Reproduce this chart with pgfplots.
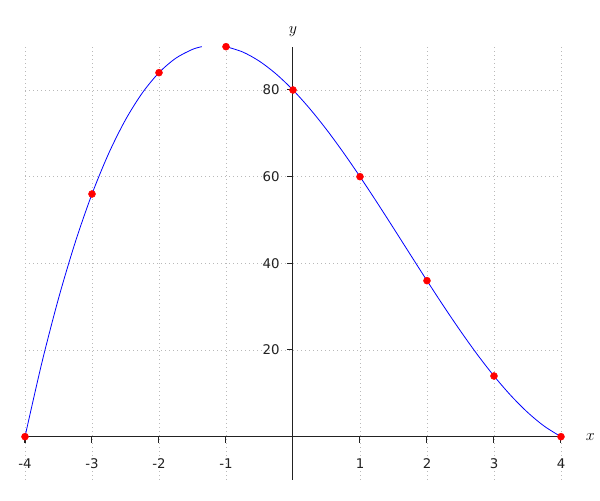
\documentclass[border=0pt]{standalone}
\usepackage{pgfplots}
\pgfplotsset{compat=1.18}
\usepackage{fontspec}
\setmainfont{DejaVu Sans}
\definecolor{axgray}{HTML}{222222}
\begin{document}
\begin{tikzpicture}
\useasboundingbox (0,0) rectangle (450pt,375pt);
\begin{axis}[
  at={(18.75pt,15pt)}, anchor=south west,
  scale only axis, width=402pt, height=325pt,
  xmin=-4, xmax=4, ymin=-10, ymax=90,
  axis lines=middle,
  axis line style={-, color=axgray, line width=0.75pt},
  xtick={-4,-3,-2,-1,1,2,3,4},
  xticklabels={-4,-3,-2,-1,1,2,3,4},
  ytick={20,40,60,80},
  yticklabels={20,40,60,80},
  tick align=outside,
  major tick length=4.5pt,
  tick style={color=axgray, line width=0.75pt},
  grid=major,
  grid style={color=gray!55, line width=0.5pt, dash pattern=on 0.75pt off 2.25pt},
  ticklabel style={font=\fontsize{10}{11}\selectfont, text=axgray},
  xticklabel style={anchor=center, yshift=-16pt},
  yticklabel style={anchor=east, xshift=-2pt},
  xlabel={$x$}, ylabel={$y$},
  every axis x label/.style={at={(axis cs:4,0)}, anchor=center, xshift=22pt, font=\large},
  every axis y label/.style={at={(axis cs:0,90)}, anchor=center, yshift=11pt, font=\large},
  unbounded coords=jump,
]
\addplot[blue, line width=0.6pt, smooth, no marks] coordinates {
(-4,0) (-3.75,16.95) (-3.5,31.88) (-3.25,44.86) (-3,56) (-2.75,65.39) (-2.5,73.13)
(-2.25,79.3) (-2,84) (-1.75,87.33) (-1.5,89.38) (-1.36,90)
(-1.2,nan)
(-1,90) (-0.75,88.77) (-0.5,86.63) (-0.25,83.67) (0,80) (0.25,75.7) (0.5,70.88)
(0.75,65.61) (1,60) (1.25,54.14) (1.5,48.13) (1.75,42.05) (2,36) (2.25,30.08)
(2.5,24.38) (2.75,18.98) (3,14) (3.25,9.52) (3.5,5.63) (3.75,2.42) (4,0)
};
\addplot[only marks, mark=*, mark size=2.6pt, color=red, fill=red] coordinates {
(-4,0) (-3,56) (-2,84) (-1,90) (0,80) (1,60) (2,36) (3,14) (4,0)
};
\end{axis}
\end{tikzpicture}
\end{document}
